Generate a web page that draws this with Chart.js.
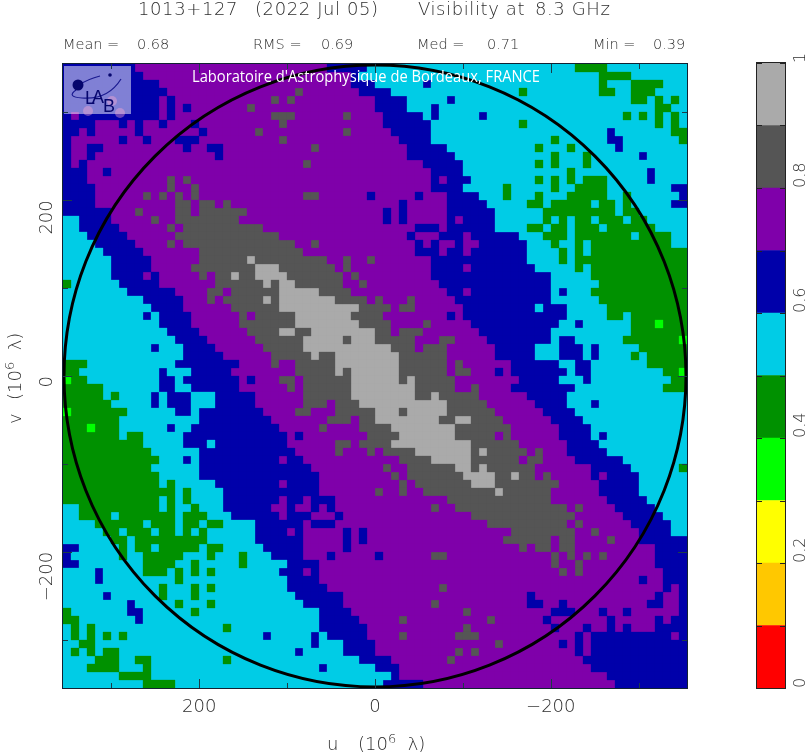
<!DOCTYPE html>
<html>
<head>
<meta charset="utf-8">
<title>1013+127 visibility</title>
<script src="https://cdn.jsdelivr.net/npm/chart.js@4"></script>
<style>
  html, body { margin: 0; padding: 0; background: #fff; }
  #wrap { position: relative; width: 810px; height: 756px; overflow: hidden; }
  canvas { position: absolute; left: 0; top: 0; }
</style>
</head>
<body>
<div id="wrap">
  <canvas id="mapChart" width="810" height="756"></canvas>
  <canvas id="barChart" width="810" height="756"></canvas>
</div>
<script>
// colour classes of the map, one per 0.1 of visibility
const levelEdges = [0, 0.1, 0.2, 0.3, 0.4, 0.5, 0.6, 0.7, 0.8, 0.9, 1]
const levelColors = ['#ff0000', '#ffc800', '#ffff00', '#00ff00', '#009100', '#00cce6', '#0000aa', '#7f00aa', '#555555', '#aaaaaa']

const uvLimit = 355
const uvMajorTicks = [200, 0, -200]
const uvMinorTicks = [300, 100, -100, -300]
const barMajorTicks = [0, 0.2, 0.4, 0.6, 0.8, 1]
const barMinorTicks = [0.1, 0.3, 0.5, 0.7, 0.9]

const titleParts = ['1013+127', '(2022 Jul 05)', 'Visibility at', '8.3 GHz']
const statNames = ['Mean =', 'RMS =', 'Med =', 'Min =']
const statValues = ['0.68', '0.69', '0.71', '0.39']

// map cells, top row first, left to right: level x count
const mapRows = [
'6x9 7x24 6x5 5 5x25 4x4 5x10',
'6x10 7x26 6 5x2 5x28 4x4 5x7',
'6x12 7x24 6x3 5x6 6 5x21 4 5x3 4x4 5x3',
'6x13 7x16 8 7x7 6x2 6x2 5x16 4 5x9 4x2 5x2 4x3 5x4',
'6x12 7 6 7x12 8 7 8 7x10 6x4 5x5 6 5x22 4x2 5 4 5 4 5',
'6x12 7 6 7 6 7x7 8 7x15 6x4 5x3 6 5x27 4x2 5x2',
'6 7 6x10 7 6 7x12 8x3 7x6 8 7x3 7 6x5 5 6 5x5 6 5x17 4 5 4 5 4 5 4 5',
'6x4 7x3 6 7 6 7x2 6 7x3 6 7x10 8 7x11 7 6x6 5x11 4 5x16 4 5 4 5',
'6x2 7 6 7x5 6 7x7 6 7x6 8 7x10 8 7x3 7x2 6x5 5x22 6 5x7 4x2',
'6 7x6 6 7x2 6 7x3 6x3 7x10 8 7x11 7x3 6x4 5x15 4 5x6 6x2 5x7 4',
'6 7x2 6x2 7x10 6 7x2 6x2 7x11 8 7x7 7x4 6x5 5x11 4 5x3 4 5x5 6 5x8',
'6 7x2 6 7x15 6 7x19 7x4 6x6 5x12 4 5x3 4 5x6 6 5x5',
'6 7 6 7x27 8 7x8 7x6 6x5 5x9 4 5 4 5x3 4 5x12',
'6x3 7x2 6 7x33 7x7 6x4 5x13 4 5x9 6 5x4',
'6x3 7x10 8 7 8 7x23 7x7 6 7 6x3 5x8 4 5 4 5 4 5 4x3 5x5 6 5x4',
'6x4 7x9 8 7x2 8 7x22 7x7 6x4 5x5 4 5x5 4 5x2 4x4 5x8 6x2',
'6x4 7x6 8 7 8 7 8 7 8 7x13 8x2 7x6 6 7x5 6 7x3 6x4 5x3 4 5x3 4 5x3 4x5 5x2 4 5x6 6',
'6x4 7x10 8x2 7 8x2 7 8 7x18 7x3 6 7x5 6x5 5x5 4x2 5 4x5 5 4x2 5 4 5x5 6x2',
'6x6 7x3 8 7x4 8x2 7 8x6 7x16 7 6 7 6 7x5 6x6 5x6 4x9 5 4x2 5x6',
'5x2 6x4 7x5 8 7x2 8x8 7x17 7 6 7 6 7x5 6 7 6x4 5x6 4 5 4 5 4x2 5 4x3 5 4x2 5x5',
'5x2 6x5 7x6 8 7 8x10 7x14 7x5 6x3 7 6x6 5x4 4x2 5 4x2 5 4x3 5 4x6 5x4',
'5x3 6x5 7x6 8x13 7x12 7x4 6 7x3 6x3 7 6x6 5x3 4x3 5 4x7 5 4x4 5x2',
'5x4 6x5 7x4 8 7 8x14 7x2 8 7x7 7x5 6 7 6 7x2 6 7x2 6x6 5x3 4 5x2 4 5 4x10 5x2',
'5x5 6x5 7x7 8x13 7x9 7x5 6x3 7 6x2 7 6x7 5x4 4 5 4 5 4x12',
'5x6 6x5 7x6 8x6 9 8x9 7x2 8 7x2 8 7x7 6x12 5x4 4 5 4x14',
'5x6 6x5 7x5 8x8 9x3 8x7 7 8 7x3 7x7 6x4 7 6x8 5x5 4 5 4x12',
'5x6 6x4 7 6 7x5 8 7 8x2 9 8x2 9x4 8x7 7 8 7x2 7x7 6x15 5x5 4x12',
'4 5x6 6x5 7x7 8x6 9 8 9x2 8x6 7x2 8 7 7x8 6x14 5x6 4x11',
'5x8 6x6 7x4 8x2 7 8x6 9x5 8x4 7x3 7x9 6x2 7 6x10 5 6 5x3 4x12',
'5x10 6x5 7x3 8 7 8x5 9 8 9x7 8x4 7 8 7x3 8 7x5 6x12 5x6 4x11',
'5x11 6x4 7x6 8x6 9x10 8x2 8x2 7 8x2 7x6 6x9 5 6x3 5x5 4x10',
'5x10 6 5 6x4 7x6 8 7 8x5 9x7 8x3 8 7x8 6 7 6x13 5x5 4x2 5 4x7',
'5x12 6x4 7x6 8x7 9x8 8x2 8x2 7x4 8 7x5 6x11 5x2 6 5x6 4x3 3 4x3',
'5x13 6x4 7x6 8x4 9x2 8x2 9x8 8x2 7 8x3 7x7 6x9 5x10 4x7',
'5x14 6x4 7x6 8x6 9x5 8 9x3 8x5 7x3 8x2 7x4 6x8 5 6x2 5x6 4x7 3',
'5x11 6 5x3 6x4 7x6 8x5 9x9 9x2 8x3 7 8x3 7x6 6x5 5x3 6x3 5 6 5x5 4x6',
'5x15 6x5 7x6 8x5 9 8x2 9x5 9x3 8x6 7x6 6x5 5x3 6x3 5 6 5x4 4 5 4x5',
'4x3 5x11 6x8 7x4 8 7x2 8x5 9x5 9x3 8x6 7 8 7x6 6x6 5x2 6x2 5x7 4x5',
'4x2 5x10 6 5x3 6x5 7x8 8x5 9 8 9x3 9x3 8x6 7 8x2 7x3 6 7 6x7 5 6x2 5x9 4x2 3',
'3 4x2 5x9 6x2 5 6x7 7 6 7x3 8x2 7 8x6 9x3 9x3 8 9 8x5 7x8 6x5 5x3 6 5x10 4x2',
'4x5 5x7 6x2 5x2 6x6 7x6 8 7 8x6 9x3 9x5 8x5 7x2 8 7x4 6x8 5x11 4x3',
'4x5 5 4 5x4 6 5 6x3 5x3 6x5 7x6 8x6 9x3 9x5 8x2 9 8x5 7x6 6x5 5x15',
'4x6 5x5 6 5 6x3 5x3 6x5 7x6 8x3 7 8x3 9x2 9x9 8x5 7x6 6x4 5x3 6 5x11',
'3 4x7 5x6 6x2 5 6x8 7x4 8x2 7x3 8x5 9x3 8 9x5 8x6 7x6 6x4 5x14',
'4x7 5x10 6x9 7x7 8x3 7 8x2 9x8 8x2 9x2 8x4 7x6 6x4 5x13',
'4x3 3 4x3 5x6 6 5x2 6x11 7x5 8 7x4 8x2 8x2 9x8 8x7 7x6 6x4 5x12',
'4x7 5 4x2 5x5 6x13 7 6 7x8 8 8x3 9x7 8x5 7 8 7x6 6x4 5 6 5x10',
'4x10 5x5 6x3 5 6x9 7x6 8x2 7 8x2 8x2 9x10 8x6 7x6 6x4 5x11',
'4x11 5x6 6x12 7x5 8 7x3 8 7 8x4 9x7 8 9 8x5 7 8 7x3 6x5 5x10',
'4x12 5x3 6 5 6x10 7 6x2 7x9 7x3 8x4 9x5 8x6 7 8x2 7x4 6x6 5x8',
'4x11 5x6 6x14 7x8 7 8 7x2 8x6 9x2 8 9 8x6 7x7 6x5 5x6 4',
'4x12 5x5 6x15 7x7 7x2 8 7 8x7 9x4 8x2 9 8x2 7 8 7x5 6 7 6x4 5x6',
'4x12 5 4 5x5 6x8 7 6x4 7x7 7x3 8 7 8x7 9x3 8x8 7x5 6x5 5x6',
'4x14 5 4 5x4 6x12 7x7 8 7x2 8 7x2 8x9 9 8x6 7x6 6x5 5x6',
'4x12 5 4 5 4 5x4 6x7 7 6x2 7 6x3 7x5 7x9 8x13 7x7 6x5 5x5',
'5x2 4x10 5 4 5x2 4 5x3 6x6 7x2 6 7x2 6 7 6 7x5 7x7 8 7x2 8x14 7 8 7x4 6x5 5x4',
'5x2 4x4 5 4x7 5 4x3 5x3 6x6 7 6x3 7x3 6 7x4 7x12 8x13 7x6 6x5 5x3',
'5x4 4x6 5 4x3 5 4x2 5 4x2 5x4 6x6 7 6x3 7x5 7x14 8x10 7 8 7x6 6x5 5x2',
'5x5 4x2 5 4x3 5 4x2 5 4 5 4 5x6 6x4 7 6 7x5 6 7 6 7 7x17 8x8 7x2 8 7x5 6x4 5x2',
'5x6 4x2 5 4x9 5x6 6x6 7x5 6 7 6 7 7x16 8x6 7 8x2 7x4 8 7x3 6x6',
'6x2 5x5 4 5 4x2 5 4x5 5 4x2 5x5 6x5 7x5 6 7x3 7x18 8 7 8x2 7 8x2 7x10 6x4',
'6 5x6 4 5x2 4x5 5x3 4 5x3 4 5x3 6x4 7x3 6 7x5 6 7x6 8x2 7x13 8 7 8 7 8 7 8 7x6 6x4',
'6x2 5x8 4x4 5x2 4 5x5 4 5x5 6x4 7x7 7x22 8 7x2 8 7x9 6x4',
'5x4 6 5x5 4x3 5 4 5 4 5 4 5x8 6x3 7 6 7x7 7x23 8 7 8 7x10 6x3',
'5x4 6 5x9 4 5x13 6x4 7x7 7x33 6 7x2 6x3',
'5x12 4 5x3 4 5 4 5x9 6x5 7x6 7x8 8 7x27 6 7 6',
'5x5 6 5x6 4 5x3 4 5x12 6x6 7x4 7x19 6 7x15 6 7x2 6',
'5x8 6 5x5 4 5x3 4 5x11 6x5 7x4 7x7 8 7x11 6x2 7x2 6 7x10 6x2 7x2 6',
'4 5x7 6x2 5x6 4 5x15 6x4 7x3 7x11 8 7x10 6x3 7x3 6 7x2 6 7x6 6',
'4x2 5x7 6 5x22 6x5 7x2 7x3 8 7x10 8 7x6 6 7x7 6 7x5 6 7 6x2',
'5 4 5 4 5x16 4 5x11 6x6 7 7x11 8 7x10 6 7x3 6 7x2 6 7 6 7x3 6x4',
'5 4 5 4 5 4 5 4 5x17 6 5x5 6 5 6x5 7 7x3 8 7x6 8x3 7x12 6 7 6x10 7 6',
'5x2 4x2 5x27 6 5x3 6x4 7x15 8 7x7 6 7 6 7 6x12',
'5 4 5 4 5 4x2 5x22 6 5x5 6x4 7x10 8 7 8 7x12 6 7 6x12',
'5x4 4x3 5x2 4x2 5x9 4 5x16 6x2 6x2 7x7 8 7x16 6x13',
'5x3 4x4 5x3 4 5x21 6 5x6 6x3 7x24 6x12',
'5x7 4x4 5x28 5x2 6 7x26 6x10',
'5x10 4x4 5x25 5 6x5 7x24 6x9'
]

const gridSize = mapRows.length
const cellSize = 2 * uvLimit / gridSize

function buildCells() {
    const cells = levelColors.map(() => [])
    mapRows.forEach((row, r) => {
        let c = 0
        row.split(' ').forEach(token => {
            const [level, count] = token.split('x').map(Number)
            for (let i = 0; i < (count || 1); i++) {
                cells[level].push({ x: uvLimit - (c + 0.5) * cellSize, y: uvLimit - (r + 0.5) * cellSize })
                c++
            }
        })
    })
    return cells
}

const thinFont = '"DejaVu Sans"'
const inkColor = '#2e2e2e'

function drawTicks(ctx, scale, values, length, area, horizontal) {
    values.forEach(v => {
        const p = Math.round(scale.getPixelForValue(v)) + 0.5
        ctx.beginPath()
        if (horizontal) {
            ctx.moveTo(p, area.top); ctx.lineTo(p, area.top + length)
            ctx.moveTo(p, area.bottom); ctx.lineTo(p, area.bottom - length)
        } else {
            ctx.moveTo(area.left, p); ctx.lineTo(area.left + length, p)
            ctx.moveTo(area.right, p); ctx.lineTo(area.right - length, p)
        }
        ctx.stroke()
    })
}

function drawPieces(ctx, pieces, x, y) {
    pieces.forEach(([text, size, rise]) => {
        ctx.font = `200 ${size}px ${thinFont}`
        ctx.fillText(text, x, y - (rise || 0))
        x += ctx.measureText(text).width
    })
}

function drawLogo(ctx) {
    ctx.save()
    ctx.fillStyle = 'rgba(255,255,255,0.5)'
    ctx.fillRect(64, 66, 67, 48)
    ctx.fillStyle = 'rgba(255,170,210,0.4)'
    ;[[88, 111, 5], [112, 101, 5], [120, 113, 5]].forEach(([x, y, r]) => {
        ctx.beginPath(); ctx.arc(x, y, r, 0, 2 * Math.PI); ctx.fill()
    })
    ctx.strokeStyle = '#1a1a90'
    ctx.lineWidth = 1.2
    ctx.beginPath(); ctx.moveTo(79, 85); ctx.quadraticCurveTo(88, 79, 100, 76); ctx.stroke()
    ctx.beginPath(); ctx.moveTo(76, 90); ctx.quadraticCurveTo(66, 97, 82, 98); ctx.quadraticCurveTo(108, 100, 121, 79); ctx.stroke()
    ctx.fillStyle = '#06066e'
    ctx.beginPath(); ctx.arc(78, 85, 5.5, 0, 2 * Math.PI); ctx.fill()
    ctx.beginPath(); ctx.arc(110, 75, 1.8, 0, 2 * Math.PI); ctx.fill()
    ctx.font = '18px "Liberation Sans Narrow", "Liberation Sans"'
    ctx.textAlign = 'left'
    ctx.textBaseline = 'alphabetic'
    ctx.fillText('L', 85, 104)
    ctx.fillText('A', 92, 103)
    ctx.fillText('B', 103, 112)
    ctx.restore()
}

const mapDecor = {
    id: 'mapDecor',
    afterDraw(chart) {
        const { ctx, chartArea: area, scales } = chart
        ctx.save()
        drawLogo(ctx)

        ctx.fillStyle = '#fff'
        ctx.font = '16px "Open Sans"'
        ctx.textAlign = 'left'
        ctx.textBaseline = 'alphabetic'
        ctx.fillText("Laboratoire d'Astrophysique de Bordeaux, FRANCE", 192, 82, 348)

        // inward ticks on all four sides of the frame
        ctx.strokeStyle = '#1c3c48'
        ctx.lineWidth = 1
        drawTicks(ctx, scales.x, uvMajorTicks, 9, area, true)
        drawTicks(ctx, scales.x, uvMinorTicks, 5, area, true)
        drawTicks(ctx, scales.y, uvMajorTicks, 9, area, false)
        drawTicks(ctx, scales.y, uvMinorTicks, 5, area, false)
        ctx.strokeStyle = '#123'
        ctx.strokeRect(area.left - 0.5, area.top - 0.5, area.width + 1, area.height + 1)

        ctx.fillStyle = inkColor
        ctx.font = `200 18px ${thinFont}`
        ctx.letterSpacing = '0.6px'
        const titleX = [138, 255, 418, 535]
        titleParts.forEach((part, i) => ctx.fillText(part, titleX[i], 15))
        ctx.letterSpacing = '0px'

        const statX = [[63, 137], [253, 321], [417, 487], [593, 653]]
        ctx.font = `200 14.5px ${thinFont}`
        statNames.forEach((name, i) => {
            ctx.fillText(name, statX[i][0], 49)
            ctx.fillText(statValues[i], statX[i][1], 49)
        })

        const axisText = [['(10', 18], ['6', 13, 7], ['  \u03bb)', 18]]
        ctx.font = `200 18px ${thinFont}`
        ctx.fillText('u', 327, 750)
        drawPieces(ctx, axisText, 358, 750)

        ctx.save()
        ctx.translate(21, 424)
        ctx.rotate(-Math.PI / 2)
        ctx.font = `200 18px ${thinFont}`
        ctx.fillText('v', 0, 0)
        drawPieces(ctx, axisText, 24, 0)
        ctx.restore()
        ctx.restore()
    }
}

const barDecor = {
    id: 'barDecor',
    afterDraw(chart) {
        const { ctx, chartArea: area, scales } = chart
        ctx.save()
        ctx.strokeStyle = '#222'
        ctx.lineWidth = 1
        drawTicks(ctx, scales.y, barMajorTicks, 5, area, false)
        drawTicks(ctx, scales.y, barMinorTicks, 5, area, false)
        ctx.strokeRect(area.left - 0.5, area.top - 0.5, area.width + 1, area.height + 1)
        ctx.restore()
    }
}

function uvLabel(value) {
    if (!uvMajorTicks.includes(value)) return ''
    return value < 0 ? '\u2212' + Math.abs(value) : String(value)
}

const cellsByLevel = buildCells()
const cellDatasets = cellsByLevel.map((data, i) => ({
    data,
    pointStyle: 'rect',
    pointRadius: 8.3 / Math.SQRT2,
    pointBorderWidth: 0,
    pointBackgroundColor: levelColors[i],
    showLine: false
}))

new Chart('mapChart', {
    type: 'scatter',
    data: {
        datasets: [{
            data: [{ x: 0, y: 0 }],
            pointStyle: 'circle',
            pointRadius: 311,
            pointBorderWidth: 3,
            pointBorderColor: '#000',
            pointBackgroundColor: 'rgba(0,0,0,0)',
            clip: false
        }, ...cellDatasets]
    },
    options: {
        responsive: false,
        animation: false,
        events: [],
        layout: { autoPadding: false, padding: { left: 0, right: 123, top: 64, bottom: 0 } },
        plugins: { legend: { display: false }, tooltip: { enabled: false } },
        scales: {
            x: {
                type: 'linear',
                reverse: true,
                min: -uvLimit,
                max: uvLimit,
                afterFit: s => { s.height = 68 },
                afterBuildTicks: s => { s.ticks = [...uvMinorTicks, ...uvMajorTicks].map(value => ({ value })) },
                grid: { display: false },
                border: { display: false },
                ticks: { autoSkip: false, maxRotation: 0, padding: 1, color: inkColor, font: { family: 'DejaVu Sans', size: 18, weight: 200 }, callback: uvLabel }
            },
            y: {
                type: 'linear',
                min: -uvLimit,
                max: uvLimit,
                afterFit: s => { s.width = 63 },
                afterBuildTicks: s => { s.ticks = [...uvMinorTicks, ...uvMajorTicks].map(value => ({ value })) },
                grid: { display: false },
                border: { display: false },
                ticks: { autoSkip: false, minRotation: 90, maxRotation: 90, padding: 8, color: inkColor, font: { family: 'DejaVu Sans', size: 18, weight: 200 }, callback: uvLabel }
            }
        }
    },
    plugins: [mapDecor]
})

new Chart('barChart', {
    type: 'bar',
    data: {
        labels: ['level'],
        datasets: levelColors.map((color, i) => ({
            data: [[levelEdges[i], levelEdges[i + 1]]],
            backgroundColor: color,
            borderWidth: 0,
            barPercentage: 1,
            categoryPercentage: 1
        }))
    },
    options: {
        responsive: false,
        animation: false,
        events: [],
        layout: { padding: { left: 757, right: 0, top: 63, bottom: 68 } },
        plugins: { legend: { display: false }, tooltip: { enabled: false } },
        scales: {
            x: { display: false, stacked: true },
            y: {
                position: 'right',
                min: 0,
                max: 1,
                afterFit: s => { s.width = 25 },
                afterBuildTicks: s => { s.ticks = barMajorTicks.map(value => ({ value })) },
                grid: { display: false },
                border: { display: false },
                ticks: { autoSkip: false, minRotation: 90, maxRotation: 90, padding: 8, color: inkColor, font: { family: 'DejaVu Sans', size: 16, weight: 200 }, callback: v => String(v) }
            }
        }
    },
    plugins: [barDecor]
})
</script>
</body>
</html>
